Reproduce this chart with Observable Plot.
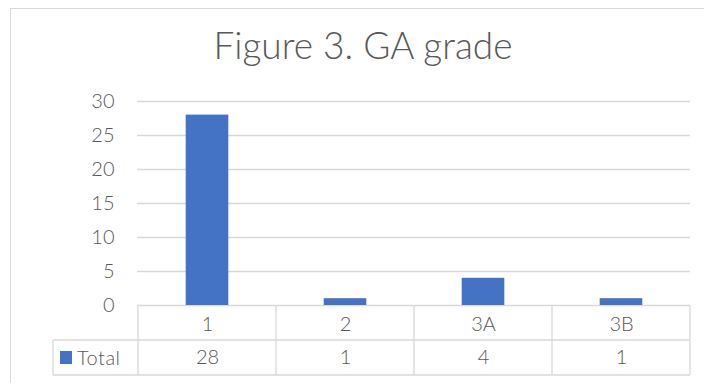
<!DOCTYPE html>
<html>
<head>
<meta charset="utf-8">
<script src="https://cdn.jsdelivr.net/npm/d3@7"></script>
<script src="https://cdn.jsdelivr.net/npm/@observablehq/plot@0.6"></script>
<style>
  html, body { margin: 0; padding: 0; background: #fff; }
  #chart { position: relative; width: 704px; height: 383px; overflow: hidden; font-family: Lato, "Noto Sans", sans-serif; }
  #border { position: absolute; left: 10px; top: 8px; width: 760px; height: 420px;
            border-top: 1px solid #d9d9d9; border-left: 1px solid #d9d9d9; box-sizing: border-box; }
  #title { position: absolute; left: 0; top: 25px; width: 726px; text-align: center;
           font-size: 37px; font-weight: 300; color: #595959; line-height: 40px; }
  #plot { position: absolute; left: 0; top: 75px; }
</style>
</head>
<body>
<div id="chart">
  <div id="border"></div>
  <div id="title">Figure 3. GA grade</div>
  <div id="plot"></div>
</div>
<script>
// GA grade counts
const grades = ["1", "2", "3A", "3B"];
const totals = [28, 1, 4, 1];
const seriesName = "Total";
const yTicks = [0, 5, 10, 15, 20, 25, 30];

const data = grades.map((g, i) => ({grade: g, total: totals[i]}));

const width = 704, height = 308;
const marginLeft = 137, marginRight = 14, marginTop = 26, marginBottom = 78;
const band = (width - marginLeft - marginRight) / grades.length;
const barInset = band * 0.345;
const rowH = 35;
const grey = "#d9d9d9", ink = "#595959", blue = "#4472C4";
const font = "Lato, 'Noto Sans', sans-serif";

const svg = Plot.plot({
  width, height, marginLeft, marginRight, marginTop, marginBottom,
  style: {fontFamily: font, fontSize: "20px", fontWeight: 300, color: ink, background: "transparent"},
  x: {domain: grades, padding: 0, label: null},
  y: {domain: [0, 30], label: null},
  marks: [
    Plot.ruleY(yTicks, {stroke: grey, strokeWidth: 1.3}),
    Plot.barY(data, {x: "grade", y: "total", fill: blue, insetLeft: barInset, insetRight: barInset}),
    Plot.axisY({ticks: yTicks, tickSize: 0, tickPadding: 23, label: null}),
    Plot.axisX({tickSize: 0, tickPadding: 11, label: null}),
    Plot.text(data, {x: "grade", y: 0, text: d => String(d.total), dy: rowH * 1.5, fill: ink})
  ]
});

// data table grid beneath the bars, laid out on the plot's own x and y scales
const xs = svg.scale("x"), ys = svg.scale("y");
const xPos = v => xs.apply ? xs.apply(v) : marginLeft + grades.indexOf(v) * band;
const bw = xs.bandwidth ?? band;
const y0 = ys.apply ? ys.apply(0) : height - marginBottom;
const right = xPos(grades[grades.length - 1]) + bw;
const legendLeft = 53;

const g = d3.select(svg).append("g")
  .attr("stroke", grey).attr("stroke-width", 1.3).attr("fill", "none");
const edges = grades.map(xPos).concat([right]);
g.selectAll("line.v").data(edges).join("line")
  .attr("x1", d => d).attr("x2", d => d)
  .attr("y1", y0).attr("y2", y0 + 2 * rowH);
g.append("line").attr("x1", legendLeft).attr("x2", legendLeft).attr("y1", y0 + rowH).attr("y2", y0 + 2 * rowH);
[1, 2].forEach(k => g.append("line")
  .attr("x1", legendLeft).attr("x2", right)
  .attr("y1", y0 + k * rowH).attr("y2", y0 + k * rowH));

// series key in the table's row header
const key = d3.select(svg).append("g");
key.append("rect").attr("x", 60).attr("y", y0 + rowH * 1.5 - 6.5)
  .attr("width", 12).attr("height", 13).attr("fill", blue);
key.append("text").attr("x", 77).attr("y", y0 + rowH * 1.5)
  .attr("dy", "0.35em").attr("fill", ink).attr("text-anchor", "start")
  .attr("font-family", font).attr("font-size", 20).attr("font-weight", 300)
  .attr("letter-spacing", "0.5px")
  .text(seriesName);

document.getElementById("plot").appendChild(svg);
</script>
</body>
</html>
